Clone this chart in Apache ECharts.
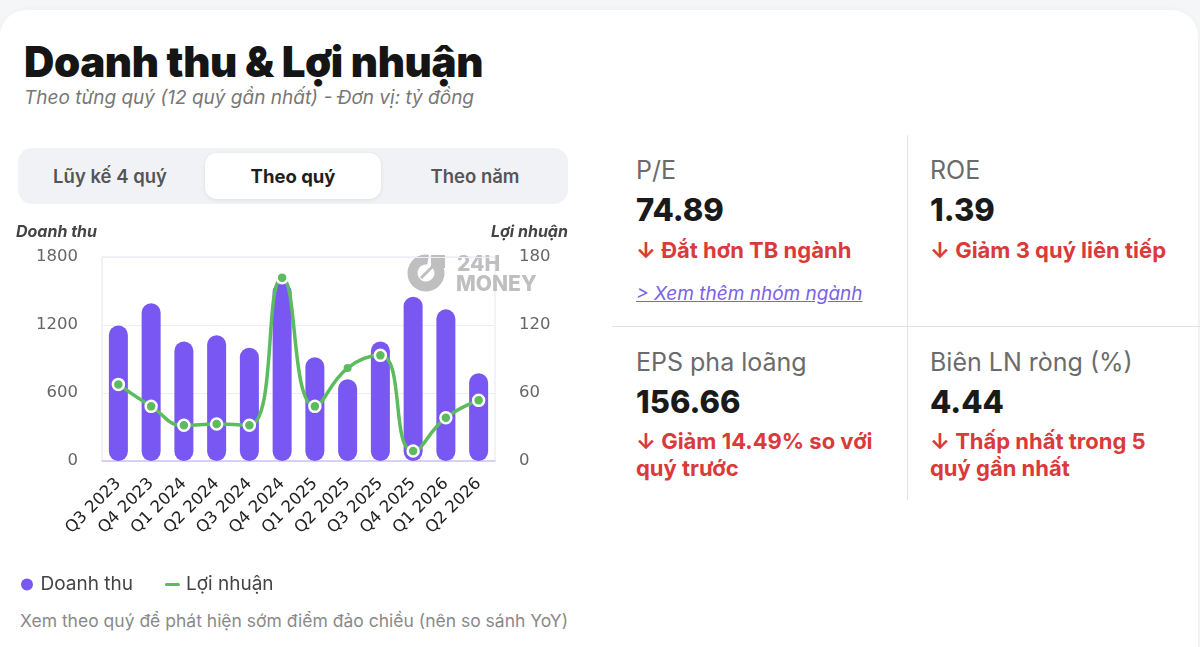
<!DOCTYPE html>
<html>
<head>
<meta charset="utf-8">
<script src="https://cdn.jsdelivr.net/npm/echarts@6/dist/echarts.min.js"></script>
<style>
  html, body { margin:0; padding:0; width:1200px; height:647px; overflow:hidden; background:#f5f6f8; font-family: Inter, "Noto Sans", sans-serif; }
  .card { position:absolute; left:0; top:10px; width:1198px; height:700px; background:#fff; border-radius:26px; box-shadow:0 0 6px rgba(0,0,0,0.04); }
  .abs { position:absolute; white-space:nowrap; }
  .title { left:24px; top:37px; font-size:42px; line-height:50px; font-weight:900; color:#151515; letter-spacing:-0.4px; }
  .subtitle { left:24px; top:87px; font-size:19px; line-height:22px; font-style:italic; color:#777; }
  .tabs { left:18px; top:148px; width:550px; height:56px; border-radius:14px; background:#f1f2f6; }
  .tab-active { left:205px; top:153px; width:176px; height:46px; border-radius:12px; background:#fff; box-shadow:0 1px 4px rgba(0,0,0,0.08); }
  .tab { top:165px; font-size:18.5px; line-height:22px; font-weight:600; color:#555; text-align:center; width:176px; }
  .tab.on { color:#1e1e1e; font-weight:700; }
  .foot { left:20px; top:610px; font-size:17.5px; line-height:22px; color:#8a8a8a; }
  .vdiv { left:907px; top:135px; width:1px; height:365px; background:#e3e3e3; }
  .hdiv { left:612px; top:326px; width:588px; height:1px; background:#e3e3e3; }
  .lbl { font-size:25px; line-height:28px; color:#6b6b6b; }
  .val { font-size:31px; line-height:36px; font-weight:800; color:#1a1a1a; }
  .red { font-size:22px; line-height:27px; font-weight:700; color:#d93a3a; }
  .link { font-size:19px; line-height:22px; font-style:italic; color:#7b61e8; text-decoration:underline; }
  #chart { position:absolute; left:0; top:210px; width:600px; height:400px; }
</style>
</head>
<body>
<div class="card"></div>
<div class="abs title">Doanh thu &amp; Lợi nhuận</div>
<div class="abs subtitle">Theo từng quý (12 quý gần nhất) - Đơn vị: tỷ đồng</div>
<div class="abs tabs"></div>
<div class="abs tab-active"></div>
<div class="abs tab" style="left:22px;">Lũy kế 4 quý</div>
<div class="abs tab on" style="left:205px;">Theo quý</div>
<div class="abs tab" style="left:387px;">Theo năm</div>
<div id="chart"></div>
<div class="abs foot">Xem theo quý để phát hiện sớm điểm đảo chiều (nên so sánh YoY)</div>

<div class="abs vdiv"></div>
<div class="abs hdiv"></div>

<div class="abs lbl" style="left:636px; top:156px;">P/E</div>
<div class="abs val" style="left:636px; top:192px;">74.89</div>
<div class="abs red" style="left:636px; top:237px;">↓ Đắt hơn TB ngành</div>
<div class="abs link" style="left:636px; top:283px;">&gt; Xem thêm nhóm ngành</div>

<div class="abs lbl" style="left:930px; top:156px;">ROE</div>
<div class="abs val" style="left:930px; top:192px;">1.39</div>
<div class="abs red" style="left:930px; top:237px;">↓ Giảm 3 quý liên tiếp</div>

<div class="abs lbl" style="left:636px; top:348px;">EPS pha loãng</div>
<div class="abs val" style="left:636px; top:384px;">156.66</div>
<div class="abs red" style="left:636px; top:428px;">↓ Giảm 14.49% so với<br>quý trước</div>

<div class="abs lbl" style="left:930px; top:348px;">Biên LN ròng (%)</div>
<div class="abs val" style="left:930px; top:384px;">4.44</div>
<div class="abs red" style="left:930px; top:428px;">↓ Thấp nhất trong 5<br>quý gần nhất</div>

<script>
const quarters = ['Q3 2023','Q4 2023','Q1 2024','Q2 2024','Q3 2024','Q4 2024','Q1 2025','Q2 2025','Q3 2025','Q4 2025','Q1 2026','Q2 2026'];
const revenue = [1195, 1392, 1055, 1110, 1000, 1572, 915, 722, 1055, 1450, 1338, 775];
const profit = [67.6, 48.2, 31.5, 32.6, 31.5, 161.8, 48.2, 82, 93.2, 8.8, 38.2, 53.5];
const leftTicks = { min: 0, max: 1800, interval: 600 };
const rightTicks = { min: 0, max: 180, interval: 60 };

const chart = echarts.init(document.getElementById('chart'));
const purple = '#7857f2';
const green = '#5dbb5f';
const axisLabelFont = 'DejaVu Sans';
const wm = '#bfbfbf';

chart.setOption({
  animation: false,
  grid: { left: 102, right: 105, top: 47, bottom: 149, show: true, borderColor: '#e2e7f0', borderWidth: 1 },
  legend: {
    left: 16, top: 360, itemWidth: 17, itemHeight: 12, itemGap: 30,
    textStyle: { fontFamily: 'Inter', fontSize: 19, color: '#444' },
    data: [
      { name: 'Doanh thu', icon: 'circle', itemStyle: { color: purple } },
      { name: 'Lợi nhuận', icon: 'path://M2.5,0 L14.5,0 A2.5,2.5 0 0 1 14.5,5 L2.5,5 A2.5,2.5 0 0 1 2.5,0 Z', itemStyle: { color: green } }
    ]
  },
  xAxis: {
    type: 'category', data: quarters,
    axisLine: { show: true, lineStyle: { color: '#cdc6f6', width: 1.5 } },
    axisTick: { show: false },
    axisLabel: { rotate: 45, margin: 20, fontFamily: axisLabelFont, fontSize: 16.5, color: '#222', interval: 0 }
  },
  yAxis: [
    {
      type: 'value', min: leftTicks.min, max: leftTicks.max, interval: leftTicks.interval,
      name: 'Doanh thu', nameLocation: 'end', nameGap: 17,
      nameTextStyle: { align: 'right', fontFamily: 'Inter', fontSize: 16, fontStyle: 'italic', fontWeight: 700, color: '#444', padding: [0, 5, 0, 0] },
      axisLine: { show: false }, axisTick: { show: false },
      axisLabel: { margin: 24, fontFamily: axisLabelFont, fontSize: 16.5, color: '#666', formatter: v => String(v) },
      splitLine: { lineStyle: { color: '#eceef3' } }
    },
    {
      type: 'value', min: rightTicks.min, max: rightTicks.max, interval: rightTicks.interval,
      name: 'Lợi nhuận', nameLocation: 'end', nameGap: 17,
      nameTextStyle: { align: 'left', fontFamily: 'Inter', fontSize: 16, fontStyle: 'italic', fontWeight: 700, color: '#444', padding: [0, 0, 0, -4] },
      axisLine: { show: false }, axisTick: { show: false },
      axisLabel: { margin: 24, fontFamily: axisLabelFont, fontSize: 16.5, color: '#666', formatter: v => String(v) },
      splitLine: { show: false }
    }
  ],
  graphic: [
    { type: 'arc', shape: { cx: 426, cy: 63, r: 13.5, startAngle: -Math.PI * 0.3, endAngle: Math.PI * 1.55, clockwise: true }, style: { stroke: wm, lineWidth: 10, fill: null }, z: 0 },
    { type: 'line', shape: { x1: 421, y1: 68, x2: 433, y2: 56 }, style: { stroke: wm, lineWidth: 3 }, z: 0 },
    { type: 'rect', shape: { x: 431, y: 45, width: 14, height: 13 }, style: { fill: wm }, z: 0 },
    { type: 'text', x: 457, y: 44, style: { text: '24H', fontFamily: 'Inter', fontWeight: 800, fontSize: 21, fill: wm }, z: 0 },
    { type: 'text', x: 456, y: 64, style: { text: 'MONEY', fontFamily: 'Inter', fontWeight: 800, fontSize: 21, fill: wm }, z: 0 }
  ],
  series: [
    {
      name: 'Doanh thu', type: 'bar', data: revenue, yAxisIndex: 0, barWidth: 19,
      itemStyle: { color: purple, borderRadius: 10 }
    },
    {
      name: 'Lợi nhuận', type: 'line', yAxisIndex: 1, smooth: true,
      data: profit.map((v, i) => i === 7 ? { value: v, symbolSize: 8, itemStyle: { borderWidth: 0 } } : v),
      symbol: 'circle', symbolSize: 11,
      lineStyle: { color: green, width: 3.5 },
      itemStyle: { color: green, borderColor: '#fff', borderWidth: 2.5 },
      z: 3
    }
  ]
});
</script>
</body>
</html>
